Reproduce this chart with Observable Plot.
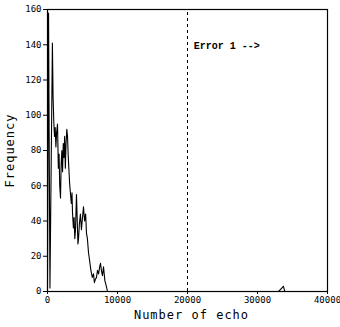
<!DOCTYPE html>
<html>
<head>
<meta charset="utf-8">
<script src="https://cdn.jsdelivr.net/npm/d3@7"></script>
<script src="https://cdn.jsdelivr.net/npm/@observablehq/plot@0.6"></script>
<style>
  html, body { margin: 0; padding: 0; background: #fff; }
  #chart svg { display: block; }
</style>
</head>
<body>
<div id="chart"></div>
<script>
// Number of echo (x) and Frequency (y)
const echoes = [0, 150, 350, 700, 800, 900, 1000, 1100, 1200, 1300, 1430, 1550, 1650, 1750, 1860, 1950, 2050, 2150, 2250, 2350, 2450, 2550, 2650, 2760, 2860, 2950, 3050, 3150, 3290, 3400, 3500, 3570, 3700, 3800, 3900, 4000, 4140, 4250, 4350, 4430, 4550, 4700, 4850, 5000, 5140, 5300, 5450, 5570, 5700, 5860, 6000, 6200, 6400, 6570, 6700, 6850, 7000, 7140, 7300, 7450, 7570, 7700, 7850, 8000, 8200, 8400, 8570, 33000, 33500, 33700, 33900, 40000];
const frequency = [0, 158, 2, 141, 110, 96, 88, 93, 82, 90, 95, 70, 78, 60, 53, 72, 80, 68, 84, 76, 88, 70, 84, 92, 88, 78, 70, 62, 55, 50, 56, 45, 36, 42, 30, 35, 55, 40, 27, 30, 38, 44, 35, 42, 48, 40, 44, 33, 30, 22, 18, 12, 8, 10, 5, 7, 8, 12, 10, 14, 16, 12, 9, 14, 6, 3, 0, 0, 2, 3, 0, 0];
const xTicks = [0, 10000, 20000, 30000, 40000];
const yTicks = [0, 20, 40, 60, 80, 100, 120, 140, 160];
const errorX = [20000];
const annotation = ["Error 1 -->"];
const xLabel = "Number of echo";
const yLabel = "Frequency";

const data = echoes.map((e, i) => ({echo: e, freq: frequency[i]}));

const mono = "'DejaVu Sans Mono', 'Liberation Mono', monospace";

const chart = Plot.plot({
  width: 340,
  height: 327,
  marginLeft: 47,
  marginRight: 13,
  marginTop: 9,
  marginBottom: 36,
  style: {fontFamily: mono, fontSize: "9px", color: "#000", background: "#fff"},
  x: {domain: [0, 40000]},
  y: {domain: [0, 160]},
  marks: [
    Plot.frame({stroke: "#000", strokeWidth: 1.2}),
    Plot.axisX({ticks: xTicks, tickSize: 3, tickPadding: 2, tickFormat: d => String(d), label: null, fontSize: 9}),
    Plot.axisY({ticks: yTicks, tickSize: 4, tickPadding: 2, tickFormat: d => String(d), label: null, fontSize: 9}),
    Plot.ruleX(errorX, {y1: 0, y2: 160, stroke: "#000", strokeWidth: 1, strokeDasharray: "3,3"}),
    Plot.line(data, {x: "echo", y: "freq", stroke: "#000", strokeWidth: 1.1}),
    Plot.text(annotation, {x: 20900, y: 139.5, text: d => d, textAnchor: "start", fontWeight: "bold", fontSize: 10, fontFamily: "'Liberation Mono', monospace"}),
    Plot.text([xLabel], {frameAnchor: "bottom", dy: 27, dx: 4, text: d => d, fontSize: 12, fontFamily: mono, className: "xlab"}),
    Plot.text([yLabel], {frameAnchor: "left", dx: -37, text: d => d, rotate: -90, textAnchor: "middle", fontSize: 12, fontFamily: mono, className: "ylab"})
  ]
});
d3.select(chart).selectAll(".xlab text, .ylab text").style("letter-spacing", "1px");
document.getElementById("chart").appendChild(chart);
</script>
</body>
</html>
